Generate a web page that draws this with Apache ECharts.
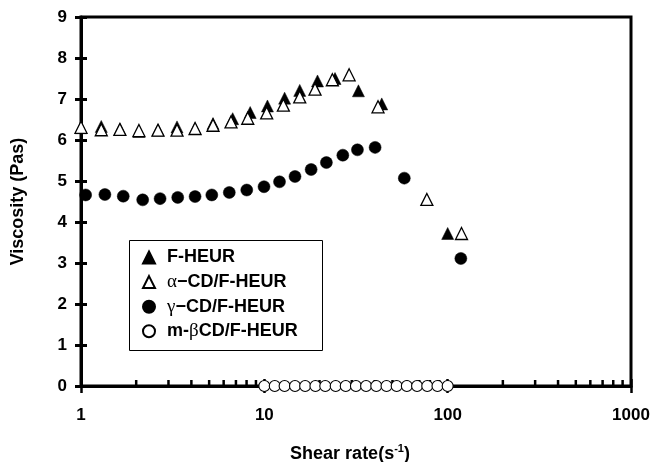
<!DOCTYPE html>
<html>
<head>
<meta charset="utf-8">
<script src="https://cdn.jsdelivr.net/npm/echarts@6/dist/echarts.min.js"></script>
<style>
  html, body { margin: 0; padding: 0; background: #fff; }
  #chart { width: 652px; height: 462px; }
</style>
</head>
<body>
<div id="chart"></div>
<script>
// Shear rate (1/s) and viscosity (Pa·s) for each formulation
const fHeurRate = [1.0, 1.29, 1.63, 2.07, 2.63, 3.34, 4.19, 5.25, 6.72, 8.37, 10.4, 12.9, 15.6, 19.5, 24.3, 32.6, 43.7, 100];
const fHeurVisc = [6.30, 6.33, 6.26, 6.21, 6.24, 6.32, 6.28, 6.40, 6.52, 6.67, 6.83, 7.02, 7.21, 7.44, 7.50, 7.20, 6.88, 3.72];

const alphaRate = [1.0, 1.29, 1.63, 2.07, 2.63, 3.34, 4.19, 5.25, 6.58, 8.12, 10.3, 12.7, 15.6, 18.9, 23.5, 29.0, 41.7, 77, 119];
const alphaVisc = [6.31, 6.25, 6.26, 6.23, 6.24, 6.24, 6.28, 6.36, 6.44, 6.53, 6.66, 6.85, 7.05, 7.24, 7.47, 7.59, 6.81, 4.55, 3.72];

const gammaRate = [1.06, 1.35, 1.70, 2.17, 2.70, 3.37, 4.19, 5.17, 6.44, 8.02, 9.96, 12.1, 14.7, 18.0, 21.8, 26.8, 32.2, 40.2, 58, 118];
const gammaVisc = [4.66, 4.67, 4.63, 4.54, 4.57, 4.60, 4.62, 4.66, 4.72, 4.78, 4.86, 4.98, 5.11, 5.28, 5.45, 5.63, 5.76, 5.82, 5.07, 3.11];

const mBetaRate = [10, 11.4, 12.9, 14.7, 16.7, 19.0, 21.5, 24.5, 27.8, 31.6, 35.9, 40.8, 46.4, 52.7, 59.9, 68.1, 77.4, 88.0, 100];
const mBetaVisc = [0, 0, 0, 0, 0, 0, 0, 0, 0, 0, 0, 0, 0, 0, 0, 0, 0, 0, 0];

// Axis ticks
const yTicks = [0, 1, 2, 3, 4, 5, 6, 7, 8, 9];
const xMajorTicks = [1, 10, 100, 1000];
const xMinorTicks = [2, 3, 4, 5, 6, 7, 8, 9, 20, 30, 40, 50, 60, 70, 80, 90, 200, 300, 400, 500, 600, 700, 800, 900];

const seriesNames = ['F-HEUR', 'α−CD/F-HEUR', 'γ−CD/F-HEUR', 'm-βCD/F-HEUR'];

const FONT = '"Liberation Sans", Arial, sans-serif';
const zip = (xs, ys) => xs.map((x, i) => [x, ys[i]]);

// Greek letters are set in a plain serif face, the rest in bold sans
function legendLabel(name) {
  let out = '{sp| }';
  let buf = '';
  for (const ch of name) {
    if (/[α-ω]/.test(ch)) {
      if (buf) { out += '{t|' + buf + '}'; buf = ''; }
      out += '{g|' + ch + '}';
    } else {
      buf += ch;
    }
  }
  if (buf) out += '{t|' + buf + '}';
  return out;
}

const chart = echarts.init(document.getElementById('chart'), null, { renderer: 'canvas' });

const option = {
  animation: false,
  backgroundColor: '#fff',
  grid: {
    left: 81, right: 21, top: 17, bottom: 76,
    containLabel: false,
    outerBoundsMode: 'none',
    show: true, borderColor: '#000', borderWidth: 3, backgroundColor: 'transparent'
  },
  xAxis: [
    {
      type: 'log', logBase: 10, min: xMajorTicks[0], max: xMajorTicks[xMajorTicks.length - 1],
      position: 'bottom',
      axisLine: { lineStyle: { color: '#000', width: 3 } },
      axisTick: { inside: false, length: 7, lineStyle: { color: '#000', width: 2.5 } },
      axisLabel: {
        margin: 21, color: '#000', fontSize: 17, fontWeight: 'bold', fontFamily: FONT,
        formatter: v => String(Math.round(v))
      },
      splitLine: { show: false },
      name: '{a|Shear rate(s}{s|-1}{a|)}',
      nameLocation: 'middle',
      nameGap: 57,
      nameTextStyle: {
        padding: [0, 12, 0, 0],
        rich: {
          a: { fontSize: 18, fontWeight: 'bold', fontFamily: FONT, color: '#000', lineHeight: 22 },
          s: { fontSize: 11, fontWeight: 'bold', fontFamily: FONT, color: '#000', verticalAlign: 'top', lineHeight: 10 }
        }
      }
    },
    {
      // inner half of the decade ticks
      type: 'log', logBase: 10, min: xMajorTicks[0], max: xMajorTicks[xMajorTicks.length - 1],
      position: 'bottom',
      axisLine: { show: false },
      axisTick: { inside: true, length: 7, lineStyle: { color: '#000', width: 2.5 } },
      axisLabel: { show: false },
      splitLine: { show: false }
    }
  ],
  yAxis: [
    {
      type: 'value', min: yTicks[0], max: yTicks[yTicks.length - 1], interval: 1,
      position: 'left',
      axisLine: { show: true, lineStyle: { color: '#000', width: 3 } },
      axisTick: { inside: false, length: 6, lineStyle: { color: '#000', width: 3 } },
      axisLabel: { margin: 14, color: '#000', fontSize: 17, fontWeight: 'bold', fontFamily: FONT },
      splitLine: { show: false },
      name: 'Viscosity (Pas)',
      nameLocation: 'middle',
      nameGap: 54,
      nameTextStyle: { fontSize: 18, fontWeight: 'bold', fontFamily: FONT, color: '#000' }
    },
    {
      type: 'value', min: yTicks[0], max: yTicks[yTicks.length - 1], interval: 1,
      position: 'left',
      axisLine: { show: false },
      axisTick: { show: true, inside: true, length: 6, lineStyle: { color: '#000', width: 3 } },
      axisLabel: { show: false },
      splitLine: { show: false }
    }
  ],
  legend: {
    data: seriesNames,
    orient: 'vertical',
    left: 142, top: 247.5,
    padding: 0,
    itemGap: 4.6,
    itemWidth: 12, itemHeight: 12,
    formatter: legendLabel,
    textStyle: {
      color: '#000', fontSize: 18, fontWeight: 'bold', fontFamily: FONT, lineHeight: 20,
      rich: {
        sp: { width: 7, fontSize: 18, lineHeight: 20 },
        t: { fontSize: 18, fontWeight: 'bold', fontFamily: FONT, color: '#000', lineHeight: 20 },
        g: { fontSize: 19, fontWeight: 'normal', fontFamily: '"Liberation Serif", serif', color: '#000', lineHeight: 20 }
      }
    }
  },
  graphic: [
    {
      // legend frame
      type: 'rect', left: 129, top: 240, z: 5,
      shape: { width: 193, height: 110 },
      style: { fill: 'transparent', stroke: '#000', lineWidth: 1 }
    }
  ],
  series: [
    {
      // minor log ticks along the shear-rate axis
      type: 'scatter', name: 'minorTicks', silent: true, clip: false,
      data: xMinorTicks.map(v => [v, 0]),
      symbol: 'rect', symbolSize: [2.5, 6], symbolOffset: [0, -3],
      itemStyle: { color: '#000', opacity: 1 },
      z: 1
    },
    {
      type: 'scatter', name: seriesNames[0], clip: false,
      data: zip(fHeurRate, fHeurVisc),
      symbol: 'triangle', symbolSize: 12,
      itemStyle: { color: '#000', borderColor: '#000', borderWidth: 0.5, opacity: 1 }
    },
    {
      type: 'scatter', name: seriesNames[1], clip: false,
      data: zip(alphaRate, alphaVisc),
      symbol: 'triangle', symbolSize: 12,
      itemStyle: { color: '#fff', borderColor: '#000', borderWidth: 1.3, opacity: 1 }
    },
    {
      type: 'scatter', name: seriesNames[2], clip: false,
      data: zip(gammaRate, gammaVisc),
      symbol: 'circle', symbolSize: 12,
      itemStyle: { color: '#000', borderColor: '#000', borderWidth: 0.5, opacity: 1 }
    },
    {
      type: 'scatter', name: seriesNames[3], clip: false,
      data: zip(mBetaRate, mBetaVisc),
      symbol: 'circle', symbolSize: 11,
      itemStyle: { color: '#fff', borderColor: '#000', borderWidth: 1.1, opacity: 1 }
    }
  ]
};

chart.setOption(option);
</script>
</body>
</html>
